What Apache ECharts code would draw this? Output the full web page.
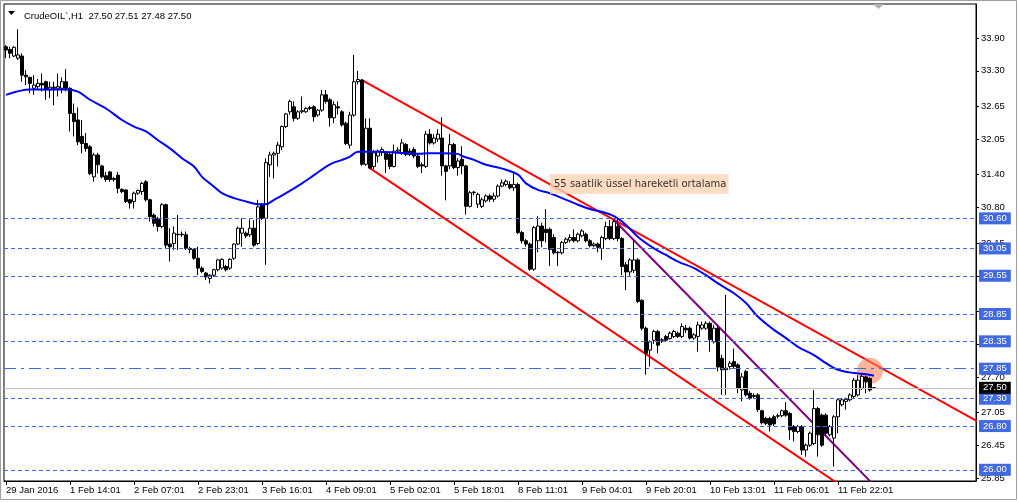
<!DOCTYPE html>
<html><head><meta charset="utf-8">
<script src="https://cdn.jsdelivr.net/npm/echarts@6/dist/echarts.min.js"></script>
<style>html,body{margin:0;padding:0;background:#fff}#c{width:1019px;height:503px}</style>
</head><body><div id="c"></div><script>
// ---- candle data (H1 bars, index 0 = 29 Jan 2016) ----
const opens = [
33.74,33.69,33.57,33.53,33.57,33.22,33.18,32.98,33.01,33.07,
33.10,32.95,33.00,32.98,32.98,33.10,32.98,32.52,32.40,32.10,
31.97,31.91,31.36,31.76,31.56,31.38,31.45,31.31,31.39,31.13,
31.12,30.94,30.91,31.06,31.09,31.27,30.94,30.66,30.60,30.45,
30.85,30.13,30.14,30.30,30.31,30.30,30.05,30.03,29.87,29.69,
29.60,29.50,29.56,29.66,29.69,29.72,29.69,29.87,30.13,30.33,
30.33,30.30,30.42,30.14,30.85,30.60,31.58,31.76,31.79,31.91,
32.28,32.55,32.64,32.43,32.55,32.55,32.61,32.64,32.49,32.58,
32.86,32.77,32.44,32.64,32.55,32.34,31.94,32.49,33.10,33.13,
31.59,32.25,31.55,31.74,31.80,31.80,31.77,31.55,31.83,31.80,
31.95,31.83,31.86,31.74,31.58,31.55,32.14,31.98,32.05,32.07,
31.56,31.56,31.95,31.53,31.68,31.56,30.82,31.07,30.86,30.82,
30.92,31.01,30.95,31.01,31.19,31.22,31.22,31.16,31.22,30.34,
30.19,30.13,29.67,30.19,30.46,30.40,30.40,30.25,29.97,29.97,
30.16,30.20,30.25,30.19,30.28,30.31,30.19,30.10,30.13,30.05,
30.23,30.45,30.23,30.45,30.23,29.75,29.62,29.65,29.84,29.10,
28.59,28.19,28.37,28.53,28.37,28.44,28.40,28.44,28.50,28.44,
28.59,28.59,28.41,28.44,28.59,28.59,28.68,28.34,28.59,28.04,
27.83,27.89,27.98,27.92,27.46,27.80,27.40,27.34,27.37,27.08,
26.94,26.94,26.97,26.98,26.99,27.08,27.03,26.79,26.70,26.79,
26.36,26.45,26.48,27.12,27.00,27.00,26.64,26.58,26.97,27.19,
27.25,27.28,27.34,27.37,27.49,27.70,27.67,27.50];
const closes = [
33.68,33.62,33.73,33.59,33.22,33.19,33.07,33.04,33.07,33.04,
32.95,33.00,32.98,33.01,33.10,32.98,32.52,32.37,32.00,31.97,
31.88,31.42,31.76,31.58,31.36,31.31,31.31,31.33,31.15,31.09,
30.91,30.88,31.06,31.11,31.24,30.94,30.63,30.51,30.45,30.85,
30.11,30.08,30.33,30.31,30.30,30.05,30.03,29.87,29.69,29.63,
29.53,29.56,29.66,29.84,29.85,29.66,29.85,30.13,30.42,30.42,
30.28,30.42,30.11,30.81,30.60,31.62,31.76,31.79,31.94,32.28,
32.51,32.74,32.43,32.55,32.57,32.61,32.63,32.46,32.58,32.86,
32.74,32.44,32.68,32.62,32.31,31.97,32.49,33.10,33.14,31.59,
32.25,31.52,31.80,31.83,31.86,31.68,31.55,31.83,31.85,31.98,
31.77,31.77,31.74,31.55,31.56,32.14,31.98,32.07,32.14,31.56,
31.46,31.95,31.53,31.65,31.56,30.82,31.07,31.08,31.04,30.94,
31.01,30.95,31.01,31.19,31.25,31.28,31.16,31.22,30.34,30.19,
30.13,29.67,30.43,30.46,30.19,30.34,30.03,29.97,29.98,30.16,
30.22,30.25,30.19,30.31,30.37,30.19,30.10,30.13,30.07,30.25,
30.45,30.23,30.54,30.23,29.72,29.62,29.84,29.84,29.08,28.59,
28.13,28.34,28.53,28.28,28.38,28.37,28.50,28.53,28.44,28.62,
28.56,28.41,28.47,28.65,28.65,28.68,28.38,28.59,27.88,27.83,
27.86,27.95,27.89,27.49,27.70,27.37,27.31,27.36,27.10,26.86,
26.85,26.82,26.84,26.99,27.08,27.00,26.73,26.70,26.79,26.36,
26.45,26.67,27.12,26.64,26.45,26.67,26.79,26.97,27.28,27.28,
27.29,27.37,27.64,27.64,27.71,27.61,27.46,27.50];
const lows = [
33.53,33.53,33.55,33.50,33.10,33.04,32.89,32.86,32.95,32.92,
32.77,32.80,32.67,32.83,32.89,32.92,32.19,32.10,31.94,31.79,
31.82,31.39,31.27,31.42,31.33,31.27,31.27,31.27,31.06,31.06,
30.88,30.78,30.78,31.03,31.03,30.91,30.54,30.45,30.36,30.42,
30.05,29.81,30.02,30.02,30.26,30.02,29.96,29.84,29.56,29.60,
29.47,29.41,29.53,29.63,29.66,29.63,29.66,29.84,30.11,30.08,
30.24,30.26,30.08,30.11,30.57,29.75,31.36,31.33,31.55,31.85,
32.25,32.50,32.37,32.40,32.52,32.53,32.58,32.37,32.46,32.55,
32.70,32.28,32.34,32.50,32.28,31.94,31.88,32.46,33.05,31.56,
31.56,31.50,31.50,31.62,31.74,31.43,31.50,31.53,31.78,31.76,
31.74,31.74,31.70,31.52,31.43,31.52,31.95,31.95,32.00,31.38,
30.93,31.50,31.50,31.38,31.41,30.67,30.80,31.02,30.79,30.79,
30.89,30.90,30.90,30.98,31.17,31.19,31.13,31.10,30.31,30.14,
30.08,29.64,29.64,29.98,30.07,30.16,29.73,29.94,29.73,29.94,
30.13,30.16,30.16,30.16,30.25,30.16,30.07,30.07,29.98,29.84,
30.20,30.20,30.20,30.18,29.56,29.29,29.55,29.60,29.05,28.55,
27.74,27.89,28.30,28.13,28.32,28.34,28.38,28.41,28.41,28.41,
28.50,28.38,28.38,28.16,28.56,28.56,28.16,28.31,27.80,27.37,
27.37,27.83,27.85,27.40,27.25,27.34,27.28,27.30,27.06,26.83,
26.82,26.70,26.80,26.94,26.96,26.97,26.55,26.52,26.67,26.27,
26.24,26.42,26.45,26.24,26.42,26.64,26.61,26.06,26.67,27.16,
27.10,27.25,27.31,27.34,27.46,27.40,27.43,27.48];
const highs = [
33.77,33.74,33.75,34.06,33.62,33.31,33.19,33.22,33.15,33.25,
33.12,33.10,33.10,33.25,33.18,33.33,33.00,32.70,32.63,32.40,
32.16,31.94,31.80,31.80,31.58,31.45,31.47,31.36,31.45,31.15,
31.13,30.96,31.09,31.13,31.27,31.30,30.96,30.69,30.63,30.88,
30.87,30.42,30.45,30.66,30.36,30.36,30.08,30.05,30.08,29.72,
29.62,29.58,29.68,29.86,29.87,29.75,29.87,30.14,30.45,30.60,
30.36,30.58,30.57,30.94,30.88,31.70,31.82,31.82,32.00,32.30,
32.53,32.77,32.74,32.58,32.83,32.64,32.66,32.67,32.60,32.95,
32.95,32.80,32.74,32.74,32.58,32.37,32.55,33.59,33.30,33.15,
32.43,32.43,31.85,31.86,31.90,31.83,31.80,31.95,31.90,32.05,
31.98,31.88,31.90,31.77,31.62,32.20,32.23,32.14,32.23,32.45,
31.58,32.14,31.98,31.70,31.92,31.58,31.10,31.10,31.07,30.98,
31.04,31.04,31.07,31.22,31.31,31.31,31.28,31.46,31.25,30.37,
30.22,30.16,30.46,30.64,30.52,30.77,30.43,30.31,30.00,30.19,
30.25,30.31,30.40,30.34,30.40,30.34,30.22,30.16,30.16,30.28,
30.54,30.57,30.57,30.60,30.26,29.80,29.87,30.20,29.87,29.12,
28.62,28.37,28.56,28.56,28.41,28.47,28.53,28.56,28.53,28.68,
28.65,28.62,28.50,28.71,28.71,28.72,28.71,28.65,28.65,28.10,
29.20,27.99,28.22,27.95,27.77,27.83,27.44,27.40,27.40,27.10,
26.97,26.97,27.00,27.03,27.10,27.24,27.06,26.82,26.82,26.82,
26.48,26.70,27.46,27.15,27.03,27.03,26.82,27.00,27.31,27.31,
27.32,27.40,27.68,27.73,27.77,27.72,27.70,27.51];

// ---- 55-period EMA, read at sample bars ----
const emaBars = [0,6,15,18,21,25,29,32,35,38,41,44,47,49,52,54,57,60,63,65,67,70,74,77,81,
 84,86,88,93,98,103,106,109,113,114,117,120,123,125,128,130,133,136,139,143,146,149,
 152,155,158,162,165,168,172,175,178,182,185,188,192,195,198,202,205,208,212,215,217];
const emaValues = [32.86,32.96,32.96,32.92,32.77,32.61,32.40,32.28,32.19,32.03,31.88,31.70,31.55,31.36,31.18,31.06,30.97,30.91,30.86,30.86,30.94,31.06,31.24,31.39,31.59,
 31.67,31.73,31.82,31.82,31.80,31.78,31.79,31.79,31.78,31.74,31.67,31.58,31.53,31.49,31.40,31.24,31.12,31.06,30.97,30.85,30.77,30.72,
 30.64,30.48,30.26,30.05,29.93,29.81,29.69,29.56,29.41,29.23,29.05,28.80,28.56,28.41,28.25,28.10,27.95,27.83,27.77,27.75,27.72];

// ---- axes ----
const slotCount = 243;
const xTickLabels = ['29 Jan 2016','1 Feb 14:01','2 Feb 07:01','2 Feb 23:01','3 Feb 16:01','4 Feb 09:01',
 '5 Feb 02:01','5 Feb 18:01','8 Feb 11:01','9 Feb 04:01','9 Feb 20:01','10 Feb 13:01','11 Feb 06:01','11 Feb 22:01'];
const xTickStep = 16;
const yTickValues = [33.90,33.30,32.65,32.05,31.40,30.80,30.15,29.55,28.90,28.30,27.70,27.05,26.45,25.85];
const yMin = 25.795, yMax = 34.522;

// ---- drawn objects ----
const dashedLevels = [30.60,30.05,29.55,28.85,28.35,27.30,26.80,26.00];
const dashDotLevel = 27.85;
const bidLevel = 27.50;
const channelUpper = [[88.75,33.13],[242.75,26.88]];
const channelLower = [[90.75,31.52],[212,25.55]];
const purpleLine = [[151.5,30.57],[219,25.57]];
const highlightPoint = [215.5,27.81];
const noteText = '55 saatlik üssel hareketli ortalama';
const notePoint = [135.75,31.23];
const symbolName = 'CrudeOIL`,H1';

const BLUE = '#3f6ae6';
const FONT = 'DejaVu Sans';
const AXFONT = 'Liberation Sans';

const categories = Array.from({length: slotCount}, (_, i) => i);
const candles = opens.map((o, i) => [o, closes[i], lows[i], highs[i]]);
const ema = emaBars.map((b, i) => [b, emaValues[i]]);
const last = opens.length - 1;
const header = symbolName + '  ' + [opens[last], highs[last], lows[last], closes[last]].map(v => v.toFixed(2)).join(' ');

const boxLabel = (bg) => ({
  show: true, position: 'end', distance: 3, formatter: p => Number(p.value).toFixed(2),
  color: '#fff', backgroundColor: bg, padding: [1, 4, 0, 4], fontSize: 9.5, fontFamily: AXFONT, lineHeight: 11
});

const markData = dashedLevels.map(v => ({ yAxis: v, lineStyle: { color: BLUE, type: [4, 3], width: 1 }, label: boxLabel('#4169E1') }));
markData.push({ yAxis: dashDotLevel, lineStyle: { color: BLUE, type: [12, 5, 3, 5], width: 1 }, label: boxLabel('#4169E1') });
markData.push({ yAxis: bidLevel, lineStyle: { color: '#c0c0c0', type: 'solid', width: 1 }, label: boxLabel('#000') });

const tickShown = (idx) => idx % xTickStep === 0 && idx / xTickStep < xTickLabels.length;

const chart = echarts.init(document.getElementById('c'), null, { renderer: 'canvas' });
chart.setOption({
  animation: false,
  backgroundColor: '#fff',
  title: { text: header, left: 19, top: 6, textStyle: { fontSize: 9.5, fontWeight: 'normal', color: '#000', fontFamily: AXFONT } },
  graphic: [
    { type: 'rect', shape: { x: 0.5, y: 0.5, width: 1016, height: 499 }, style: { fill: 'none', stroke: '#a0a0a0', lineWidth: 1 }, silent: true, z: 100 },
    { type: 'polygon', shape: { points: [[8, 11], [15, 11], [11.5, 15]] }, style: { fill: '#000' }, silent: true },
    { type: 'polygon', shape: { points: [[873, 4], [884, 4], [878.5, 9]] }, style: { fill: '#b0b0b0' }, silent: true }
  ],
  grid: { left: 4, top: 4, right: 43, bottom: 22, show: true, borderColor: '#000', borderWidth: 1, backgroundColor: '#fff' },
  xAxis: {
    type: 'category', data: categories, boundaryGap: true,
    axisLine: { show: true, lineStyle: { color: '#000' } },
    axisTick: { show: true, alignWithLabel: true, length: 4, interval: tickShown, lineStyle: { color: '#000' } },
    axisLabel: { interval: tickShown, align: 'left', margin: 4, fontSize: 9.5, fontFamily: AXFONT, color: '#000',
      formatter: (v, idx) => (idx % xTickStep === 0 ? (xTickLabels[idx / xTickStep] || '') : '') },
    splitLine: { show: false }
  },
  yAxis: {
    type: 'value', position: 'right', min: yMin, max: yMax, scale: true,
    axisLine: { show: true, lineStyle: { color: '#000' } },
    axisTick: { show: true, length: 3, customValues: yTickValues, lineStyle: { color: '#000' } },
    axisLabel: { customValues: yTickValues, formatter: v => v.toFixed(2), margin: 5, fontSize: 9.5, fontFamily: AXFONT, color: '#000' },
    splitLine: { show: false }
  },
  series: [
    { type: 'line', name: 'upper', data: channelUpper, showSymbol: false, symbol: 'none', z: 2, silent: true,
      lineStyle: { color: '#ff0000', width: 2 } },
    { type: 'line', name: 'lower', data: channelLower, showSymbol: false, symbol: 'none', z: 2, silent: true,
      lineStyle: { color: '#ff0000', width: 2 } },
    { type: 'line', name: 'purple', data: purpleLine, showSymbol: false, symbol: 'none', z: 2, silent: true,
      lineStyle: { color: '#800080', width: 2 } },
    { type: 'scatter', name: 'hl', data: [highlightPoint], symbol: 'circle', symbolSize: 26, z: 2, silent: true,
      itemStyle: { color: 'rgba(250,130,90,0.75)' } },
    { type: 'candlestick', name: 'CrudeOIL', data: candles, barWidth: 3, z: 3,
      itemStyle: { color: '#fff', color0: '#000', borderColor: '#000', borderColor0: '#000', borderWidth: 1 },
      markLine: { symbol: 'none', silent: true, animation: false, data: markData } },
    { type: 'line', name: 'EMA55', data: ema, showSymbol: false, symbol: 'none', smooth: 0.35, z: 4, silent: true,
      lineStyle: { color: '#0000ff', width: 2 } },
    { type: 'scatter', name: 'note', data: [notePoint], symbolSize: 0, z: 6, silent: true,
      label: { show: true, position: 'right', distance: 0, formatter: noteText, color: '#000', fontSize: 10, fontFamily: FONT,
        backgroundColor: '#fcd5b4', padding: [4, 2, 4, 4], lineHeight: 12 } }
  ]
});
</script></body></html>
